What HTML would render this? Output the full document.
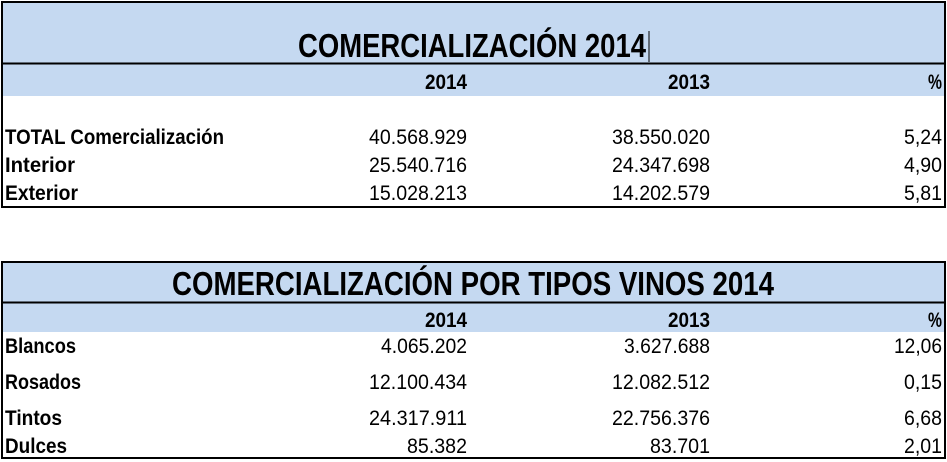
<!DOCTYPE html>
<html><head><meta charset="utf-8"><style>body{margin:0;background:#fff}svg{display:block}</style></head><body>
<svg width="947" height="462" xmlns="http://www.w3.org/2000/svg" font-family="Liberation Sans, sans-serif">
<rect x="0" y="0" width="947" height="462" fill="#fff"/>
<!-- Table 1 -->
<rect x="2" y="2" width="943" height="94" fill="#c5d9f1"/>
<rect x="2" y="2" width="943" height="205" fill="none" stroke="#000" stroke-width="2"/>
<line x1="2" y1="63.5" x2="945" y2="63.5" stroke="#000" stroke-width="2"/>
<text x="298" y="57" font-size="33" font-weight="bold" textLength="348" lengthAdjust="spacingAndGlyphs">COMERCIALIZACIÓN 2014</text>
<line x1="649" y1="31" x2="649" y2="62" stroke="#000" stroke-width="1"/>
<g font-size="21" font-weight="bold" text-anchor="end">
<text x="467" y="89" textLength="42" lengthAdjust="spacingAndGlyphs">2014</text>
<text x="710" y="89" textLength="42" lengthAdjust="spacingAndGlyphs">2013</text>
<text x="942" y="89" textLength="14" lengthAdjust="spacingAndGlyphs">%</text>
</g>
<g font-size="21" font-weight="bold">
<text x="5" y="144" textLength="219" lengthAdjust="spacingAndGlyphs">TOTAL Comercialización</text>
<text x="5" y="172" textLength="70" lengthAdjust="spacingAndGlyphs">Interior</text>
<text x="5" y="200" textLength="73" lengthAdjust="spacingAndGlyphs">Exterior</text>
</g>
<g font-size="21" text-anchor="end">
<text x="467" y="144" textLength="98" lengthAdjust="spacingAndGlyphs">40.568.929</text>
<text x="710" y="144" textLength="98" lengthAdjust="spacingAndGlyphs">38.550.020</text>
<text x="942" y="144" textLength="38" lengthAdjust="spacingAndGlyphs">5,24</text>
<text x="467" y="172" textLength="98" lengthAdjust="spacingAndGlyphs">25.540.716</text>
<text x="710" y="172" textLength="98" lengthAdjust="spacingAndGlyphs">24.347.698</text>
<text x="942" y="172" textLength="38" lengthAdjust="spacingAndGlyphs">4,90</text>
<text x="467" y="200" textLength="98" lengthAdjust="spacingAndGlyphs">15.028.213</text>
<text x="710" y="200" textLength="98" lengthAdjust="spacingAndGlyphs">14.202.579</text>
<text x="942" y="200" textLength="38" lengthAdjust="spacingAndGlyphs">5,81</text>
</g>
<!-- Table 2 -->
<rect x="2" y="262" width="943" height="70" fill="#c5d9f1"/>
<rect x="2" y="262" width="943" height="196" fill="none" stroke="#000" stroke-width="2"/>
<line x1="2" y1="302.5" x2="945" y2="302.5" stroke="#000" stroke-width="2"/>
<text x="172" y="295" font-size="33" font-weight="bold" textLength="602" lengthAdjust="spacingAndGlyphs">COMERCIALIZACIÓN POR TIPOS VINOS 2014</text>
<g font-size="21" font-weight="bold" text-anchor="end">
<text x="467" y="327" textLength="42" lengthAdjust="spacingAndGlyphs">2014</text>
<text x="710" y="327" textLength="42" lengthAdjust="spacingAndGlyphs">2013</text>
<text x="942" y="327" textLength="14" lengthAdjust="spacingAndGlyphs">%</text>
</g>
<g font-size="21" font-weight="bold">
<text x="5" y="353" textLength="71" lengthAdjust="spacingAndGlyphs">Blancos</text>
<text x="5" y="389" textLength="76" lengthAdjust="spacingAndGlyphs">Rosados</text>
<text x="5" y="425" textLength="57" lengthAdjust="spacingAndGlyphs">Tintos</text>
<text x="5" y="453" textLength="62" lengthAdjust="spacingAndGlyphs">Dulces</text>
</g>
<g font-size="21" text-anchor="end">
<text x="467" y="353" textLength="86" lengthAdjust="spacingAndGlyphs">4.065.202</text>
<text x="710" y="353" textLength="86" lengthAdjust="spacingAndGlyphs">3.627.688</text>
<text x="942" y="353" textLength="48" lengthAdjust="spacingAndGlyphs">12,06</text>
<text x="467" y="389" textLength="98" lengthAdjust="spacingAndGlyphs">12.100.434</text>
<text x="710" y="389" textLength="98" lengthAdjust="spacingAndGlyphs">12.082.512</text>
<text x="942" y="389" textLength="38" lengthAdjust="spacingAndGlyphs">0,15</text>
<text x="467" y="425" textLength="98" lengthAdjust="spacingAndGlyphs">24.317.911</text>
<text x="710" y="425" textLength="98" lengthAdjust="spacingAndGlyphs">22.756.376</text>
<text x="942" y="425" textLength="38" lengthAdjust="spacingAndGlyphs">6,68</text>
<text x="467" y="453" textLength="60" lengthAdjust="spacingAndGlyphs">85.382</text>
<text x="710" y="453" textLength="60" lengthAdjust="spacingAndGlyphs">83.701</text>
<text x="942" y="453" textLength="38" lengthAdjust="spacingAndGlyphs">2,01</text>
</g>
</svg>
</body></html>
